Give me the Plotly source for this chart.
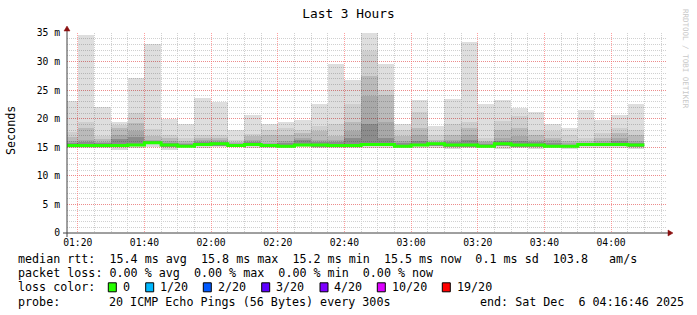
import plotly.graph_objects as go
import pandas as pd

# ---------------- data ----------------
bar_starts = list(pd.date_range("2025-12-06 01:15:00", periods=35, freq="5min"))

smoke_max = [23.1, 34.6, 22.0, 19.4, 27.1, 33.0, 19.95, 19.1, 23.6, 23.0, 18.0, 20.7, 19.1, 19.4, 19.7,
             22.6, 29.6, 26.7, 35.05, 29.5, 19.1, 23.2, 18.8, 23.5, 33.5, 22.6, 23.2, 21.9, 21.2, 19.1,
             18.3, 21.6, 19.7, 20.7, 22.5]
smoke_u2 = [17.7, 19.4, 16.9, 18.96, 21.0, 18.2, 17.2, 16.6, 17.2, 17.1, 16.3, 17.3, 18.1, 18.4, 18.1,
            18.7, 19.0, 22.6, 31.8, 25.1, 18.1, 21.2, 17.2, 19.0, 19.4, 16.6, 19.6, 20.4, 18.1, 17.8,
            17.2, 16.6, 17.5, 18.4, 18.1]
smoke_u3 = [16.8, 18.4, 16.4, 18.4, 19.2, 17.0, 16.6, 16.1, 16.6, 16.6, 16.0, 16.9, 17.2, 17.2, 17.5,
            17.8, 16.9, 19.5, 27.4, 24.2, 16.9, 18.4, 16.3, 17.1, 18.4, 16.1, 18.1, 18.4, 17.2, 16.6,
            16.1, 16.1, 16.6, 17.5, 17.1]
smoke_u4 = [16.1, 16.3, 16.0, 17.2, 17.8, 16.3, 16.1, 15.7, 16.2, 16.3, 15.8, 16.2, 15.7, 16.1, 16.6,
            16.3, 16.2, 17.8, 23.9, 19.4, 16.1, 17.2, 16.0, 16.3, 17.2, 15.9, 16.6, 16.9, 16.2, 16.2,
            15.8, 15.8, 16.1, 16.6, 16.1]
smoke_u5 = [15.8, 15.9, 15.7, 16.5, 16.8, 16.1, 15.8, 15.5, 15.9, 16.0, 15.6, 15.9, 15.5, 15.8, 16.2,
            15.9, 15.9, 16.6, 19.0, 16.6, 15.8, 16.1, 15.8, 15.9, 16.2, 15.6, 16.1, 16.1, 15.9, 15.7,
            15.4, 15.7, 15.8, 16.1, 15.8]
median_rtt = [15.3, 15.3, 15.3, 15.3, 15.4, 15.8, 15.4, 15.2, 15.5, 15.6, 15.3, 15.5, 15.3, 15.2, 15.4,
              15.4, 15.3, 15.3, 15.5, 15.5, 15.2, 15.4, 15.6, 15.4, 15.4, 15.2, 15.6, 15.4, 15.4, 15.2,
              15.2, 15.5, 15.5, 15.5, 15.4]
smoke_l2 = [15.1, 15.1, 15.1, 15.0, 15.2, 15.5, 15.1, 15.1, 15.2, 15.3, 15.1, 15.2, 15.1, 15.0, 15.2,
            15.1, 15.1, 15.1, 15.2, 15.2, 15.0, 15.2, 15.3, 15.1, 15.1, 15.0, 15.3, 15.1, 15.1, 15.0,
            15.0, 15.2, 15.2, 15.2, 15.1]
smoke_min = [14.9, 14.9, 14.9, 14.6, 14.9, 15.0, 14.6, 15.0, 14.9, 15.0, 15.0, 14.9, 14.9, 14.9, 15.0,
             14.9, 14.9, 14.8, 14.9, 14.9, 14.9, 14.8, 14.8, 14.7, 14.8, 14.8, 14.7, 14.8, 14.7, 14.8,
             14.7, 14.9, 14.8, 14.8, 14.7]

y_tick_vals = [0, 5, 10, 15, 20, 25, 30, 35]
y_tick_text = ["0", "5 m", "10 m", "15 m", "20 m", "25 m", "30 m", "35 m"]

range_start = "2025-12-06 01:16:46"
range_end = "2025-12-06 04:16:46"
step_ms = 5 * 60 * 1000

legend_lines = [
    "median rtt:  15.4 ms avg  15.8 ms max  15.2 ms min  15.5 ms now  0.1 ms sd  103.8   am/s",
    "packet loss: 0.00 % avg  0.00 % max  0.00 % min  0.00 % now",
]
loss_labels = ["0", "1/20", "2/20", "3/20", "4/20", "10/20", "19/20"]
loss_colors = ["#26ff00", "#00b8ff", "#0059ff", "#5e00ff", "#7e00ff", "#dd00ff", "#ff0000"]
probe_text = "20 ICMP Echo Pings (56 Bytes) every 300s"
end_text = "end: Sat Dec  6 04:16:46 2025"

# ---------------- layout constants ----------------
W, H = 697, 315
ML, MR, MT, MB = 67, 30, 33, 82
PW, PH = W - ML - MR, H - MT - MB
FONT = "DejaVu Sans Mono"


def px(x):
    return (x - ML) / PW


def py(y):
    return (MT + PH - y) / PH


def nb(s):
    return s.replace(" ", "\u00a0")


fig = go.Figure()

centers = [t + pd.Timedelta(minutes=2.5) for t in bar_starts]
segments = [
    (smoke_min, smoke_l2, "rgba(0,0,0,0.15)"),
    (smoke_l2, smoke_u5, "rgba(0,0,0,0.45)"),
    (smoke_u5, smoke_u4, "rgba(0,0,0,0.34)"),
    (smoke_u4, smoke_u3, "rgba(0,0,0,0.27)"),
    (smoke_u3, smoke_u2, "rgba(0,0,0,0.19)"),
    (smoke_u2, smoke_max, "rgba(0,0,0,0.13)"),
]
for lo, hi, col in segments:
    fig.add_trace(go.Bar(
        x=centers, base=lo, y=[h - l for l, h in zip(lo, hi)],
        width=[step_ms] * len(centers), marker=dict(color=col, line=dict(width=0)),
        showlegend=False, hoverinfo="skip"))

med_x = bar_starts + [bar_starts[-1] + pd.Timedelta(minutes=5)]
med_y = median_rtt + [median_rtt[-1]]
fig.add_trace(go.Scatter(x=med_x, y=med_y, mode="lines",
                         line=dict(color=loss_colors[0], width=3, shape="hv"),
                         showlegend=False, hoverinfo="skip"))

fig.update_layout(
    width=W, height=H, margin=dict(l=ML, r=MR, t=MT, b=MB),
    paper_bgcolor="white", plot_bgcolor="white",
    barmode="overlay", bargap=0,
    font=dict(family=FONT, color="black"),
    title=dict(text="Last 3 Hours", x=0.5, xanchor="center", y=1 - 14 / H, yanchor="middle",
               font=dict(family=FONT, size=12.8, color="black")),
)

major_grid = "rgba(255,95,95,0.6)"
minor_grid = "#d0d0d0"
fig.update_xaxes(
    type="date", range=[range_start, range_end],
    tick0="2025-12-06 01:20:00", dtick=20 * 60 * 1000, tickformat="%H:%M",
    ticks="", showline=False, zeroline=False,
    showgrid=True, gridcolor=major_grid, griddash="1px,1px", gridwidth=1,
    minor=dict(dtick=step_ms, tick0="2025-12-06 01:20:00", showgrid=True,
               gridcolor=minor_grid, griddash="1px,1px", gridwidth=1),
    tickfont=dict(family=FONT, size=9.7, color="black"), ticklabelstandoff=2,
)
fig.update_yaxes(
    range=[0, 35], tickvals=y_tick_vals, ticktext=y_tick_text,
    ticks="", showline=False, zeroline=False,
    showgrid=True, gridcolor=major_grid, griddash="1px,1px", gridwidth=1,
    minor=dict(dtick=1, showgrid=True, gridcolor=minor_grid, griddash="1px,1px", gridwidth=1),
    tickfont=dict(family=FONT, size=9.7, color="black"), ticklabelstandoff=6,
)

shapes = []
axis_col = "#404040"
arrow_col = "#8b1010"
shapes.append(dict(type="line", xref="paper", yref="paper", x0=px(63), x1=px(668), y0=py(233), y1=py(233),
                   line=dict(color=axis_col, width=1)))
shapes.append(dict(type="line", xref="paper", yref="paper", x0=px(67), x1=px(67), y0=py(237), y1=py(30),
                   line=dict(color=axis_col, width=1)))
shapes.append(dict(type="path", xref="paper", yref="paper",
                   path=f"M {px(64)} {py(31)} L {px(70)} {py(31)} L {px(67)} {py(26)} Z",
                   fillcolor=arrow_col, line=dict(color=arrow_col, width=0.5)))
shapes.append(dict(type="path", xref="paper", yref="paper",
                   path=f"M {px(668)} {py(230)} L {px(668)} {py(236)} L {px(673)} {py(233)} Z",
                   fillcolor=arrow_col, line=dict(color=arrow_col, width=0.5)))

annotations = []
LF = 11.7
annotations.append(dict(text="Seconds", xref="paper", yref="paper", x=px(11), y=py(131),
                        xanchor="center", yanchor="middle", textangle=-90, showarrow=False,
                        font=dict(family=FONT, size=LF, color="black")))
annotations.append(dict(text=nb("RRDTOOL / TOBI OETIKER"), xref="paper", yref="paper", x=px(686), y=py(59),
                        xanchor="center", yanchor="middle", textangle=90, showarrow=False,
                        font=dict(family=FONT, size=7.5, color="#c8c8c8")))

line_y = [259.3, 273.3, 287.3, 301.5]
for i, s in enumerate(legend_lines):
    annotations.append(dict(text=nb(s), xref="paper", yref="paper", x=px(16), y=py(line_y[i]),
                            xanchor="left", yanchor="middle", showarrow=False,
                            font=dict(family=FONT, size=LF, color="black")))
annotations.append(dict(text=nb("loss color:"), xref="paper", yref="paper", x=px(16), y=py(line_y[2]),
                        xanchor="left", yanchor="middle", showarrow=False,
                        font=dict(family=FONT, size=LF, color="black")))
box_x = [108.3, 145.7, 203.3, 261.7, 320.0, 377.3, 442.3]
for bx, lab, col in zip(box_x, loss_labels, loss_colors):
    shapes.append(dict(type="rect", xref="paper", yref="paper",
                       x0=px(bx), x1=px(bx + 8), y0=py(line_y[2] + 4.5), y1=py(line_y[2] - 4.5),
                       fillcolor=col, line=dict(color="black", width=1)))
    annotations.append(dict(text=nb(lab), xref="paper", yref="paper", x=px(bx + 12.4), y=py(line_y[2]),
                            xanchor="left", yanchor="middle", showarrow=False,
                            font=dict(family=FONT, size=LF, color="black")))
annotations.append(dict(text=nb("probe:"), xref="paper", yref="paper", x=px(16), y=py(line_y[3]),
                        xanchor="left", yanchor="middle", showarrow=False,
                        font=dict(family=FONT, size=LF, color="black")))
annotations.append(dict(text=nb(probe_text), xref="paper", yref="paper", x=px(107.3), y=py(line_y[3]),
                        xanchor="left", yanchor="middle", showarrow=False,
                        font=dict(family=FONT, size=LF, color="black")))
annotations.append(dict(text=nb(end_text), xref="paper", yref="paper", x=px(478.3), y=py(line_y[3]),
                        xanchor="left", yanchor="middle", showarrow=False,
                        font=dict(family=FONT, size=LF, color="black")))

fig.update_layout(shapes=shapes, annotations=annotations)
fig.write_html("out.html")
